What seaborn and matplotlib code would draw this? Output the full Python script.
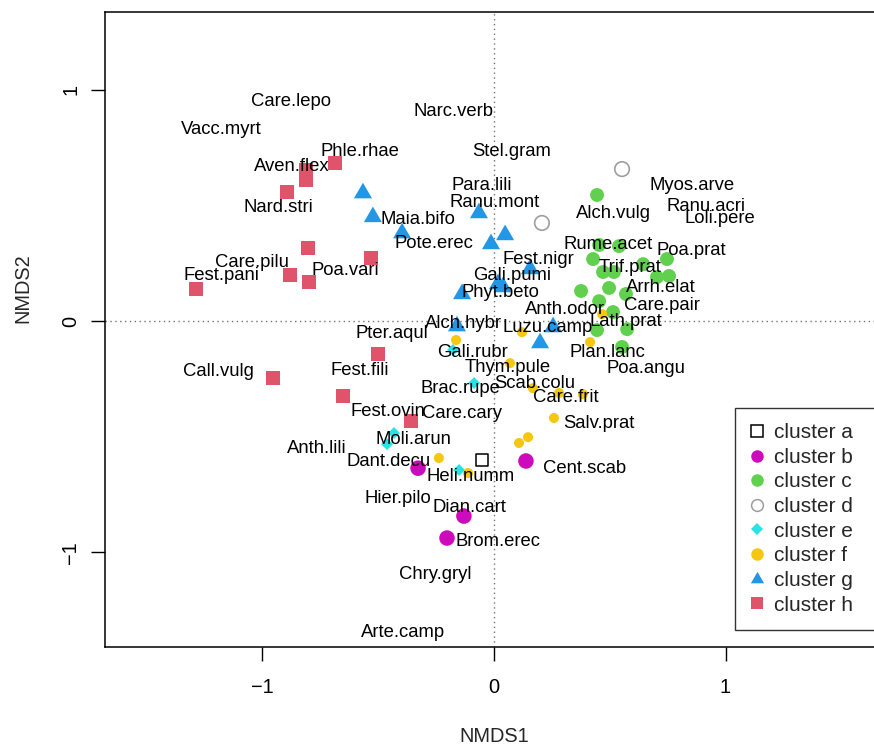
import numpy as np
import pandas as pd
import matplotlib
matplotlib.use("Agg")
import matplotlib.pyplot as plt
import seaborn as sns
from matplotlib.lines import Line2D

# ---------------- data ----------------
clusters = ["cluster a", "cluster b", "cluster c", "cluster d",
            "cluster e", "cluster f", "cluster g", "cluster h"]

a_x = [-0.052]
a_y = [-0.601]

b_x = [-0.328, 0.138, -0.130, -0.203]
b_y = [-0.636, -0.605, -0.843, -0.938]

c_x = [0.445, 0.454, 0.540, 0.428, 0.644, 0.747, 0.471, 0.518, 0.704,
       0.756, 0.376, 0.497, 0.570, 0.454, 0.514, 0.445, 0.575, 0.553]
c_y = [0.545, 0.329, 0.324, 0.268, 0.246, 0.268, 0.212, 0.212, 0.190,
       0.195, 0.130, 0.143, 0.117, 0.086, 0.039, -0.039, -0.035, -0.112]

d_x = [0.553, 0.207]
d_y = [0.657, 0.424]

e_x = [-0.177, -0.086, -0.432, -0.462, -0.151]
e_y = [-0.125, -0.268, -0.484, -0.532, -0.644]

f_x = [-0.164, 0.121, 0.069, 0.168, 0.281, 0.384, 0.259, 0.108, 0.147,
       -0.238, -0.112, 0.415, 0.467]
f_y = [-0.082, -0.048, -0.182, -0.290, -0.311, -0.316, -0.419, -0.527,
       -0.502, -0.592, -0.657, -0.091, 0.030]

g_x = [-0.566, -0.523, -0.397, -0.065, 0.048, -0.013, 0.156, 0.017, 0.039,
       -0.138, -0.160, 0.255, 0.199]
g_y = [0.553, 0.450, 0.380, 0.467, 0.372, 0.333, 0.225, 0.160, 0.147,
       0.117, -0.022, -0.026, -0.095]

h_x = [-0.687, -0.812, -0.812, -0.894, -0.803, -0.531, -0.881, -0.799,
       -1.287, -0.501, -0.955, -0.652, -0.359]
h_y = [0.683, 0.653, 0.610, 0.558, 0.316, 0.272, 0.199, 0.168, 0.138,
       -0.143, -0.246, -0.324, -0.432]

species = ["Care.lepo", "Vacc.myrt", "Narc.verb", "Phle.rhae", "Aven.flex",
           "Stel.gram", "Nard.stri", "Para.lili", "Ranu.mont", "Maia.bifo",
           "Pote.erec", "Myos.arve", "Ranu.acri", "Loli.pere", "Alch.vulg",
           "Rume.acet", "Poa.prat", "Fest.nigr", "Trif.prat", "Gali.pumi",
           "Care.pilu", "Poa.vari", "Fest.pani", "Phyt.beto", "Arrh.elat",
           "Anth.odor", "Care.pair", "Luzu.camp", "Lath.prat", "Alch.hybr",
           "Pter.aqul", "Plan.lanc", "Gali.rubr", "Thym.pule", "Poa.angu",
           "Call.vulg", "Fest.fili", "Scab.colu", "Brac.rupe", "Care.frit",
           "Fest.ovin", "Care.cary", "Salv.prat", "Moli.arun", "Anth.lili",
           "Dant.decu", "Heli.numm", "Cent.scab", "Hier.pilo", "Dian.cart",
           "Brom.erec", "Chry.gryl", "Arte.camp"]
species_x = [-0.877, -1.179, -0.177, -0.579, -0.873,
             0.078, -0.933, -0.052, 0.004, -0.328,
             -0.259, 0.855, 0.916, 0.976, 0.518,
             0.492, 0.851, 0.190, 0.587, 0.078,
             -1.045, -0.644, -1.175, 0.026, 0.721,
             0.307, 0.726, 0.233, 0.570, -0.130,
             -0.441, 0.492, -0.091, 0.060, 0.657,
             -1.192, -0.579, 0.177, -0.143, 0.311,
             -0.458, -0.138, 0.454, -0.350, -0.765,
             -0.454, -0.099, 0.393, -0.415, -0.104,
             0.017, -0.255, -0.393]
species_y = [0.951, 0.826, 0.904, 0.731, 0.666,
             0.731, 0.493, 0.588, 0.514, 0.441,
             0.337, 0.588, 0.497, 0.445, 0.463,
             0.333, 0.303, 0.264, 0.233, 0.199,
             0.251, 0.220, 0.195, 0.125, 0.143,
             0.052, 0.069, -0.026, -0.004, -0.009,
             -0.052, -0.134, -0.138, -0.199, -0.203,
             -0.220, -0.212, -0.272, -0.290, -0.329,
             -0.389, -0.398, -0.441, -0.510, -0.553,
             -0.605, -0.674, -0.636, -0.765, -0.804,
             -0.955, -1.094, -1.345]

xticks = [-1, 0, 1]
yticks = [-1, 0, 1]
tick_labels = ["\u22121", "0", "1"]

# ---------------- styling ----------------
sns.set_style("white")
plt.rcParams["font.family"] = ["Liberation Sans", "DejaVu Sans"]

tri = [(-1.0, -0.577), (1.0, -0.577), (0.0, 1.155)]
styles = {
    "cluster a": dict(color="#000000", marker="s", s=85, open=True, lw=1.1, lms=8.5),
    "cluster b": dict(color="#CD0BBC", marker="o", s=125, open=False, lw=0, lms=9),
    "cluster c": dict(color="#61D04F", marker="o", s=100, open=False, lw=0, lms=9),
    "cluster d": dict(color="#9E9E9E", marker="o", s=110, open=True, lw=1.2, lms=8.5),
    "cluster e": dict(color="#28E2E5", marker="D", s=37, open=False, lw=0, lms=6),
    "cluster f": dict(color="#F5C710", marker="o", s=52, open=False, lw=0, lms=9),
    "cluster g": dict(color="#2297E6", marker=tri, s=225, open=False, lw=0, lms=11),
    "cluster h": dict(color="#DF536B", marker="s", s=100, open=False, lw=0, lms=8.5),
}
coords = {
    "cluster a": (a_x, a_y), "cluster b": (b_x, b_y), "cluster c": (c_x, c_y),
    "cluster d": (d_x, d_y), "cluster e": (e_x, e_y), "cluster f": (f_x, f_y),
    "cluster g": (g_x, g_y), "cluster h": (h_x, h_y),
}

W, H = 874, 747
fig = plt.figure(figsize=(W / 100, H / 100), dpi=100)
L, R, T, B = 105, 883, 12, 647
ax = fig.add_axes([L / W, 1 - B / H, (R - L) / W, (B - T) / H])
ax.set_xlim(-1.68, 1.68)
ax.set_ylim(-1.409, 1.336)

ax.axvline(0, color="0.45", lw=1.0, ls=(0, (1, 2.5)), zorder=1)
ax.axhline(0, color="0.45", lw=1.0, ls=(0, (1, 2.5)), zorder=1)

for i, cl in enumerate(clusters):
    st = styles[cl]
    xs, ys = coords[cl]
    df = pd.DataFrame({"NMDS1": xs, "NMDS2": ys})
    sns.scatterplot(data=df, x="NMDS1", y="NMDS2", ax=ax, marker=st["marker"],
                    s=st["s"], color=st["color"],
                    edgecolor=st["color"] if st["open"] else "none",
                    linewidth=st["lw"], zorder=3 + i * 0.01, legend=False)
    if st["open"]:
        ax.collections[-1].set_facecolor("none")

for sp, x, y in zip(species, species_x, species_y):
    ax.text(x, y, sp, ha="center", va="center", fontsize=13.3, color="black",
            zorder=5)

ax.set_xticks(xticks)
ax.set_yticks(yticks)
ax.set_xticklabels(tick_labels)
ax.set_yticklabels(tick_labels)
ax.tick_params(direction="out", length=10, width=1.0, labelsize=14.4,
               color="black", labelcolor="black",
               bottom=True, left=True, top=False, right=False)
ax.tick_params(axis="x", pad=12.5)
ax.tick_params(axis="y", pad=8)
for lab in ax.get_yticklabels():
    lab.set_rotation(90)
    lab.set_va("center")
    lab.set_ha("right")

for sp in ax.spines.values():
    sp.set_color("black")
    sp.set_linewidth(1.1)

ax.set_xlabel("NMDS1", fontsize=14.4)
ax.set_ylabel("NMDS2", fontsize=14.4)
ax.xaxis.set_label_coords((494 - L) / (R - L), (B - 737) / (B - T))
ax.xaxis.label.set_va("center")
ax.yaxis.set_label_coords((23 - L) / (R - L), (B - 288) / (B - T))
ax.yaxis.label.set_va("center")

handles = []
for cl in clusters:
    st = styles[cl]
    handles.append(Line2D([], [], linestyle="none", marker=st["marker"],
                          markersize=st["lms"],
                          markerfacecolor="none" if st["open"] else st["color"],
                          markeredgecolor=st["color"],
                          markeredgewidth=1.1 if st["open"] else 0))
leg_w = 150 / W
leg = ax.legend(handles, clusters, loc="upper left",
                bbox_to_anchor=(735 / W, 1 - 408 / H - 0.3, leg_w, 0.3),
                bbox_transform=fig.transFigure, borderaxespad=0,
                mode="expand",
                frameon=True, fancybox=False, edgecolor="black",
                fontsize=15, borderpad=0.73, labelspacing=0.27,
                handlelength=0.67, handletextpad=0.48)
leg.get_frame().set_linewidth(1.0)
leg.set_zorder(10)

fig.savefig("out.png", dpi=100)
